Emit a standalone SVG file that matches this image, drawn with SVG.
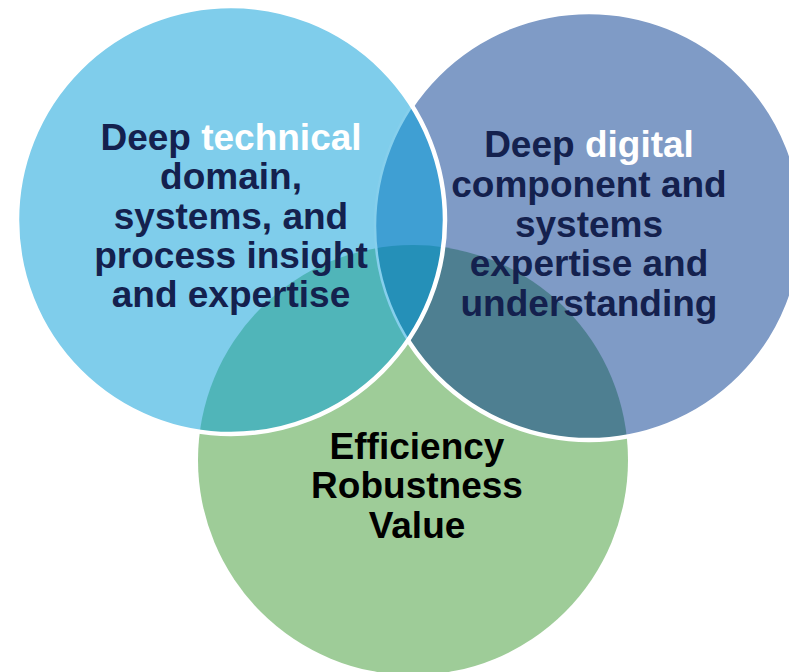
<svg xmlns="http://www.w3.org/2000/svg" width="789" height="672" viewBox="0 0 789 672">
  <style>
    .lbl { font-family: "Liberation Sans", Arial, sans-serif; font-weight: bold; font-size: 37px; text-anchor: middle; }
    .navy { fill: #14214E; }
    .wht { fill: #FFFFFF; }
    .blk { fill: #000000; }
  </style>
  <defs>
    <clipPath id="clipL"><circle cx="231" cy="220" r="214"/></clipPath>
    <clipPath id="clipR"><circle cx="589" cy="226" r="214"/></clipPath>
    <clipPath id="clipG"><circle cx="413" cy="460" r="215"/></clipPath>
  </defs>
  <rect width="789" height="672" fill="#FFFFFF"/>

  <g id="node-value">
    <circle cx="413" cy="460" r="215" fill="#9ECC98"/>
  </g>

  <g id="node-digital">
    <circle cx="589" cy="226" r="214" fill="#7F9BC6"/>
    <g clip-path="url(#clipR)">
      <circle cx="413" cy="460" r="215" fill="#4E7F91"/>
    </g>
    <circle cx="589" cy="226" r="214" fill="none" stroke="#FFFFFF" stroke-width="4.5"/>
  </g>

  <g id="node-technical">
    <circle cx="231" cy="220" r="214" fill="#7FCDEB"/>
    <g clip-path="url(#clipL)">
      <circle cx="413" cy="460" r="215" fill="#50B5B9"/>
      <circle cx="589" cy="226" r="214" fill="#3F9FD3"/>
      <g clip-path="url(#clipG)">
        <circle cx="589" cy="226" r="214" fill="#2590B8"/>
      </g>
      <circle cx="589" cy="226" r="214" fill="none" stroke="#86CFEC" stroke-width="2.5"/>
    </g>
    <circle cx="231" cy="220" r="214" fill="none" stroke="#FFFFFF" stroke-width="4.5"/>
  </g>

  <g id="labels">
    <text class="lbl navy" x="231" y="150">Deep <tspan class="wht">technical</tspan></text>
    <text class="lbl navy" x="231" y="189">domain,</text>
    <text class="lbl navy" x="231" y="229">systems, and</text>
    <text class="lbl navy" x="231" y="268">process insight</text>
    <text class="lbl navy" x="231" y="307">and expertise</text>

    <text class="lbl navy" x="589" y="157">Deep <tspan class="wht">digital</tspan></text>
    <text class="lbl navy" x="589" y="197">component and</text>
    <text class="lbl navy" x="589" y="237">systems</text>
    <text class="lbl navy" x="589" y="276">expertise and</text>
    <text class="lbl navy" x="589" y="316">understanding</text>

    <text class="lbl blk" x="417" y="459">Efficiency</text>
    <text class="lbl blk" x="417" y="498">Robustness</text>
    <text class="lbl blk" x="417" y="538">Value</text>
  </g>
</svg>
